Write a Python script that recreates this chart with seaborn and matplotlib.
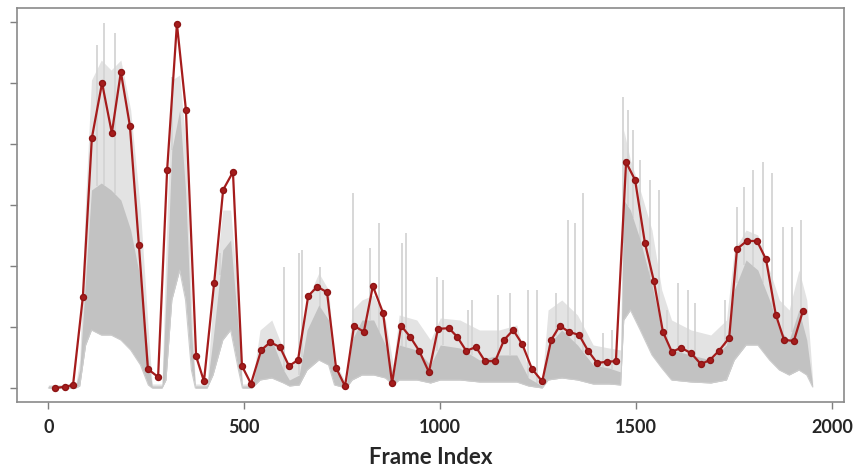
import numpy as np
import pandas as pd
import matplotlib
matplotlib.use("Agg")
import matplotlib.pyplot as plt
import seaborn as sns

# ---- red series: sampled frames and values (arbitrary units, ticks 0..6) ----
red_frames = [17, 43, 63, 88, 111, 137, 162, 185, 208, 231, 254, 280, 303, 328, 351,
              377, 397, 423, 446, 471, 494, 517, 543, 566, 591, 614, 637, 663, 686, 711,
              734, 757, 780, 805, 828, 854, 877, 900, 923, 946, 971, 994, 1022, 1043, 1066,
              1091, 1114, 1140, 1163, 1186, 1209, 1234, 1260, 1283, 1305, 1328, 1354, 1377,
              1400, 1425, 1448, 1474, 1497, 1522, 1545, 1568, 1591, 1614, 1640, 1665, 1688,
              1711, 1737, 1757, 1782, 1808, 1831, 1856, 1877, 1902, 1925]
red_values = [0.00, 0.02, 0.05, 1.49, 4.10, 5.00, 4.18, 5.18, 4.30, 2.34, 0.31, 0.18,
              3.57, 5.97, 4.56, 0.52, 0.11, 1.72, 3.25, 3.54, 0.36, 0.07, 0.62, 0.75,
              0.67, 0.36, 0.46, 1.51, 1.66, 1.57, 0.33, 0.03, 1.02, 0.92, 1.67, 1.23,
              0.08, 1.02, 0.84, 0.61, 0.26, 0.97, 0.98, 0.84, 0.61, 0.67, 0.44, 0.44,
              0.79, 0.95, 0.72, 0.31, 0.11, 0.79, 1.02, 0.92, 0.87, 0.61, 0.41, 0.43,
              0.44, 3.70, 3.41, 2.38, 1.75, 0.92, 0.59, 0.66, 0.57, 0.39, 0.46, 0.61,
              0.82, 2.28, 2.41, 2.41, 2.11, 1.20, 0.79, 0.77, 1.26]

# ---- gray per-frame signal, summarised: envelope breakpoints ----
gray_frames = [0, 70, 80, 95, 110, 135, 160, 185, 210, 235, 255, 265, 290, 300, 315,
               335, 350, 365, 375, 405, 420, 445, 465, 485, 495, 520, 540, 570, 600,
               615, 640, 660, 690, 715, 730, 760, 775, 800, 830, 860, 880, 895, 940,
               975, 1000, 1050, 1100, 1150, 1195, 1225, 1260, 1275, 1310, 1350, 1390,
               1430, 1460, 1468, 1485, 1510, 1540, 1565, 1590, 1640, 1690, 1730, 1750,
               1780, 1810, 1840, 1865, 1890, 1915, 1935, 1950]
gray_low_px = [388, 388, 386, 345, 330, 335, 335, 340, 350, 365, 385, 388, 388, 380, 300,
               270, 300, 370, 388, 388, 375, 340, 330, 370, 388, 388, 380, 378, 383,
               386, 385, 370, 360, 365, 385, 388, 380, 375, 375, 378, 385, 380, 380,
               383, 380, 380, 382, 382, 382, 386, 388, 380, 378, 380, 384,
               384, 385, 320, 310, 330, 355, 368, 380, 382, 383, 380, 360,
               345, 345, 360, 370, 375, 370, 375, 387]
gray_core_px = [386, 386, 370, 280, 190, 183, 190, 200, 230, 280, 360, 386, 386, 300, 150,
                110, 190, 330, 386, 386, 340, 250, 240, 330, 386, 386, 350, 340, 370,
                380, 375, 330, 305, 320, 370, 386, 340, 320, 320, 345, 375, 345, 350,
                365, 345, 348, 360, 355, 355, 378, 386, 345, 330, 345, 365,
                368, 372, 200, 210, 240, 285, 330, 350, 355, 360, 345, 290,
                260, 270, 300, 330, 340, 310, 340, 385]
gray_high_px = [385, 384, 360, 200, 80, 60, 70, 60, 110, 210, 330, 384, 384, 250, 80,
                75, 140, 300, 384, 384, 300, 210, 210, 300, 384, 384, 330, 320, 350,
                370, 355, 300, 273, 290, 360, 384, 310, 300, 295, 320, 365, 315, 320,
                340, 318, 320, 330, 330, 325, 370, 380, 310, 300, 315, 345,
                348, 350, 130, 160, 190, 230, 290, 320, 330, 335, 320, 250,
                230, 235, 270, 300, 310, 270, 300, 380]
spike_frames = [124, 142, 170, 315, 438, 601, 640, 648, 693, 777, 821, 844, 902, 913,
                992, 1007, 1071, 1081, 1147, 1178, 1224, 1247, 1295, 1326, 1344, 1364,
                1415, 1438, 1466, 1479, 1492, 1510, 1535, 1558, 1579, 1606, 1632, 1650,
                1726, 1757, 1775, 1798, 1823, 1846, 1874, 1897, 1920]
spike_px = [45, 23, 33, 77, 253, 267, 253, 250, 267, 193, 248, 223, 243, 233,
            277, 280, 310, 300, 295, 293, 290, 290, 293, 220, 223, 193,
            333, 330, 97, 110, 130, 160, 180, 190, 310, 283, 290, 303,
            300, 207, 187, 170, 162, 173, 227, 227, 220]

x_ticks = [0, 500, 1000, 1500, 2000]
y_ticks = [0, 1, 2, 3, 4, 5, 6]


def px_to_val(p):
    return (388 - np.asarray(p, dtype=float)) / 61.0


sns.set_theme(style="white")
plt.rcParams["font.family"] = ["Lato", "DejaVu Sans"]

fig = plt.figure(figsize=(8.58, 4.68), dpi=100)
ax = fig.add_axes([17 / 858, 1 - 402 / 468, (844 - 17) / 858, (402 - 8) / 468])

gl = px_to_val(gray_low_px)
gc = px_to_val(gray_core_px)
gh = px_to_val(gray_high_px)
ax.fill_between(gray_frames, gl, gh, color="#e3e3e3", linewidth=0, zorder=1)
ax.fill_between(gray_frames, gl, gc, color="#c2c2c2", linewidth=0, zorder=2)
ax.plot(gray_frames, gl, color="#cccccc", linewidth=0.8, zorder=2)

sp_top = px_to_val(spike_px)
sp_base = np.interp(spike_frames, gray_frames, gc)
ax.vlines(spike_frames, sp_base, sp_top, color="#d4d4d4", linewidth=1.3, zorder=1)

df = pd.DataFrame({"frame": red_frames, "value": red_values})
sns.lineplot(data=df, x="frame", y="value", ax=ax, color="#a51c1c", linewidth=1.6,
             marker="o", markersize=4.3, markeredgecolor="#8e1414",
             markeredgewidth=1.0, zorder=5)

ax.set_xlim(-80, 2030)
ax.set_ylim(-0.23, 6.23)
ax.set_xticks(x_ticks)
ax.set_xticklabels([str(t) for t in x_ticks], fontsize=13, fontweight="bold")
ax.set_yticks(y_ticks)
ax.set_yticklabels([])
ax.set_ylabel("")
ax.set_xlabel("Frame Index", fontsize=16, fontweight="bold", labelpad=8)
ax.tick_params(axis="both", direction="out", length=5, width=1, color="#7f7f7f",
               bottom=True, left=True, pad=7)
for s in ax.spines.values():
    s.set_color("#8a8a8a")
    s.set_linewidth(1.2)

fig.savefig("out.png", dpi=100)
